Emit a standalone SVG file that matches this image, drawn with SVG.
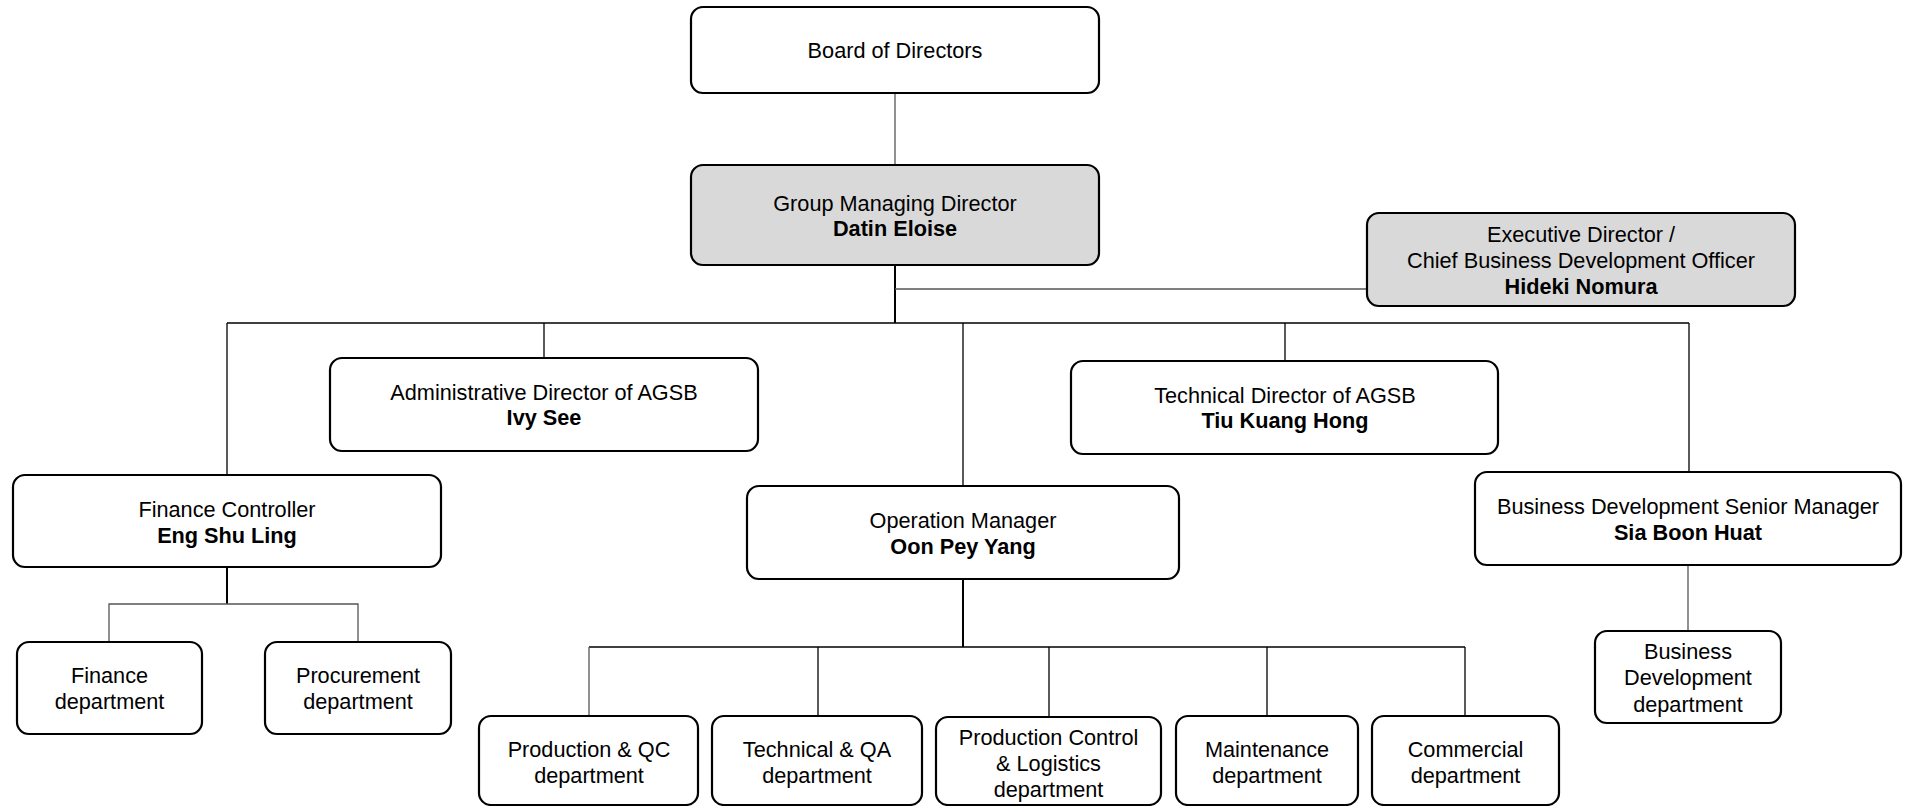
<svg xmlns="http://www.w3.org/2000/svg" width="1906" height="806" viewBox="0 0 1906 806">
<style>
.box{fill:#fff;stroke:#000;stroke-width:2.2}
.grey{fill:#d9d9d9}
text{font-family:"Liberation Sans",Arial,sans-serif;font-size:21.7px;fill:#000;text-anchor:middle}
.b{font-weight:bold}
.ln{stroke:#000;stroke-width:1.3;fill:none}
.lg{stroke:#555;stroke-width:1.3;fill:none}
.lt{stroke:#000;stroke-width:2;fill:none}
</style>
<rect width="1906" height="806" fill="#fff"/>
<g id="connectors">
<line class="lg" x1="895" y1="93" x2="895" y2="165"/>
<line class="lt" x1="895" y1="265" x2="895" y2="323"/>
<line class="lg" x1="895" y1="289" x2="1367" y2="289"/>
<line class="ln" x1="227" y1="323" x2="1689" y2="323"/>
<line class="ln" x1="227" y1="323" x2="227" y2="475"/>
<line class="ln" x1="544" y1="323" x2="544" y2="358"/>
<line class="ln" x1="963" y1="323" x2="963" y2="486"/>
<line class="ln" x1="1285" y1="323" x2="1285" y2="361"/>
<line class="ln" x1="1689" y1="323" x2="1689" y2="472"/>
<line class="lt" x1="227" y1="567" x2="227" y2="604"/>
<polyline class="lg" points="109,642 109,604 358,604 358,642"/>
<line class="lt" x1="963" y1="579" x2="963" y2="647"/>
<line class="ln" x1="589" y1="647" x2="1465" y2="647"/>
<line class="lg" x1="589" y1="647" x2="589" y2="716"/>
<line class="ln" x1="818" y1="647" x2="818" y2="716"/>
<line class="ln" x1="1049" y1="647" x2="1049" y2="717"/>
<line class="ln" x1="1267" y1="647" x2="1267" y2="716"/>
<line class="ln" x1="1465" y1="647" x2="1465" y2="716"/>
<line class="lg" x1="1688" y1="565" x2="1688" y2="631"/>
</g>
<g id="board">
<rect class="box" x="691" y="7" width="408" height="86" rx="12"/>
<text x="895" y="58">Board of Directors</text>
</g>
<g id="gmd">
<rect class="box grey" x="691" y="165" width="408" height="100" rx="12"/>
<text x="895" y="211">Group Managing Director</text>
<text class="b" x="895" y="236">Datin Eloise</text>
</g>
<g id="exec">
<rect class="box grey" x="1367" y="213" width="428" height="93" rx="12"/>
<text x="1581" y="242">Executive Director /</text>
<text x="1581" y="268">Chief Business Development Officer</text>
<text class="b" x="1581" y="294">Hideki Nomura</text>
</g>
<g id="admin">
<rect class="box" x="330" y="358" width="428" height="93" rx="12"/>
<text x="544" y="400">Administrative Director of AGSB</text>
<text class="b" x="544" y="425">Ivy See</text>
</g>
<g id="techdir">
<rect class="box" x="1071" y="361" width="427" height="93" rx="12"/>
<text x="1285" y="403">Technical Director of AGSB</text>
<text class="b" x="1285" y="428">Tiu Kuang Hong</text>
</g>
<g id="finctrl">
<rect class="box" x="13" y="475" width="428" height="92" rx="12"/>
<text x="227" y="517">Finance Controller</text>
<text class="b" x="227" y="543">Eng Shu Ling</text>
</g>
<g id="opmgr">
<rect class="box" x="747" y="486" width="432" height="93" rx="12"/>
<text x="963" y="528">Operation Manager</text>
<text class="b" x="963" y="554">Oon Pey Yang</text>
</g>
<g id="bdsm">
<rect class="box" x="1475" y="472" width="426" height="93" rx="12"/>
<text x="1688" y="514">Business Development Senior Manager</text>
<text class="b" x="1688" y="540">Sia Boon Huat</text>
</g>
<g id="findept">
<rect class="box" x="17" y="642" width="185" height="92" rx="12"/>
<text x="109.5" y="683">Finance</text>
<text x="109.5" y="709">department</text>
</g>
<g id="procdept">
<rect class="box" x="265" y="642" width="186" height="92" rx="12"/>
<text x="358" y="683">Procurement</text>
<text x="358" y="709">department</text>
</g>
<g id="pqc">
<rect class="box" x="479" y="716" width="219" height="89" rx="12"/>
<text x="589" y="757">Production &amp; QC</text>
<text x="589" y="783">department</text>
</g>
<g id="tqa">
<rect class="box" x="712" y="716" width="210" height="89" rx="12"/>
<text x="817" y="757">Technical &amp; QA</text>
<text x="817" y="783">department</text>
</g>
<g id="pcl">
<rect class="box" x="936" y="717" width="225" height="88" rx="12"/>
<text x="1048.5" y="745">Production Control</text>
<text x="1048.5" y="771">&amp; Logistics</text>
<text x="1048.5" y="797">department</text>
</g>
<g id="maint">
<rect class="box" x="1176" y="716" width="182" height="89" rx="12"/>
<text x="1267" y="757">Maintenance</text>
<text x="1267" y="783">department</text>
</g>
<g id="comm">
<rect class="box" x="1372" y="716" width="187" height="89" rx="12"/>
<text x="1465.5" y="757">Commercial</text>
<text x="1465.5" y="783">department</text>
</g>
<g id="bddept">
<rect class="box" x="1595" y="631" width="186" height="92" rx="12"/>
<text x="1688" y="659">Business</text>
<text x="1688" y="685">Development</text>
<text x="1688" y="712">department</text>
</g>
</svg>
